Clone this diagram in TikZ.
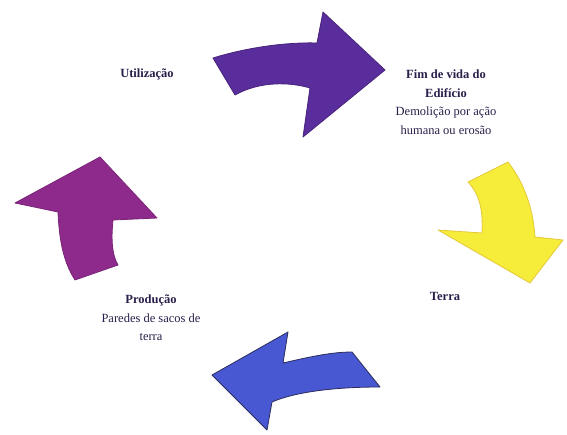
\documentclass[tikz,border=0pt]{standalone}
\usepackage{fontspec}
\setmainfont{Liberation Serif}
\definecolor{cpurple}{HTML}{5A2D9C}
\definecolor{cmagenta}{HTML}{8E2A8C}
\definecolor{cyellow}{HTML}{F6EC3A}
\definecolor{cyellowedge}{HTML}{E6C83A}
\definecolor{cblue}{HTML}{4858D2}
\definecolor{cblueedge}{HTML}{2C2C5C}
\definecolor{ctext}{HTML}{2A1E4A}
\begin{document}
\begin{tikzpicture}[x=1pt,y=-1pt,
  lab/.style={align=center,text=ctext,font=\fontsize{12.5}{18.5}\selectfont,inner sep=0pt},
  arr/.style={line join=round,line width=0.8pt}]
\useasboundingbox (0,0) rectangle (567,435);
\fill[white] (0,0) rectangle (567,435);
% top purple arrow
\filldraw[arr,fill=cpurple,draw=cpurple!80!black] (213,58) .. controls (245,48) and (285,42) .. (317,43) -- (323,12) -- (385,70) -- (303,137) -- (310,88) .. controls (290,82) and (260,81) .. (235,95) -- cycle;
% right yellow arrow
\filldraw[arr,fill=cyellow,draw=cyellowedge] (468,182) -- (508,162) .. controls (522,180) and (533,205) .. (535,237) -- (563,240) -- (530,283) -- (438,230) -- (482,233) .. controls (483,210) and (480,195) .. (468,182) -- cycle;
% bottom blue arrow
\filldraw[arr,fill=cblue,draw=cblueedge] (212,375) -- (288,332) -- (283,363) .. controls (305,358) and (330,352) .. (352,352) -- (380,387) .. controls (345,387) and (300,390) .. (272,402) -- (267,430) -- cycle;
% left magenta arrow
\filldraw[arr,fill=cmagenta,draw=cmagenta!85!black] (100,157) -- (157,218) -- (113,220) .. controls (111,240) and (112,255) .. (118,265) -- (75,280) .. controls (62,260) and (59,235) .. (58,212) -- (15,203) -- cycle;
% labels
\node[lab,font=\fontsize{12.5}{18.5}\selectfont\bfseries] (util) at (147,74) {Utilização};
\node[lab] (fim) at (446,102) {\textbf{Fim de vida do}\\\textbf{Edifício}\\Demolição por ação\\humana ou erosão};
\node[lab,font=\fontsize{12.5}{18.5}\selectfont\bfseries] (terra) at (445,296) {Terra};
\node[lab] (prod) at (151,318) {\textbf{Produção}\\Paredes de sacos de\\terra};
\end{tikzpicture}
\end{document}
